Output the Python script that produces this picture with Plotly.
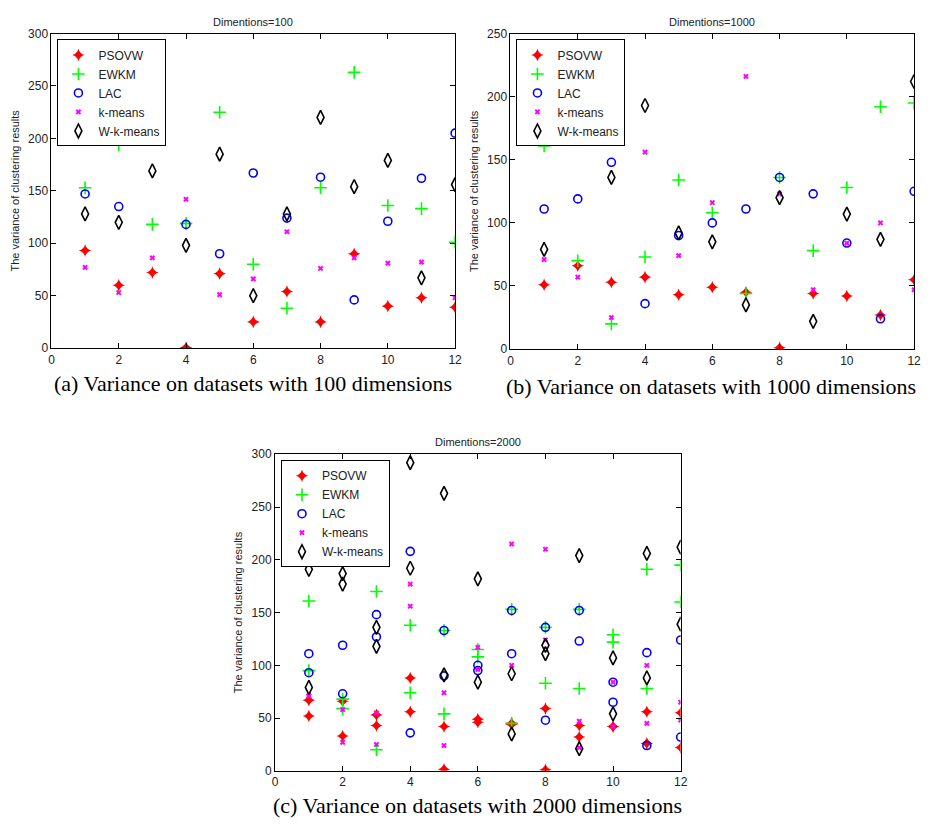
import plotly.graph_objects as go

# ---------------- data ----------------
x_sets = list(range(1, 13))
series_names = ["PSOVW", "EWKM", "LAC", "k-means", "W-k-means"]

# (a) 100 dimensions
a_psovw = [93, 60, 72, 0.5, 71, 25, 54, 25, 90, 40, 48, 39]
a_ewkm = [153, 194, 118, 119, 225, 80, 38, 153, 263, 136, 133, 101]
a_lac = [147, 135, 207, 118, 90, 167, 124, 163, 46, 121, 162, 205]
a_kmeans = [77, 53, 86, 142, 51, 66, 111, 76, 86, 81, 82, 48]
a_wkmeans = [128, 120, 169, 98, 185, 50, 128, 220, 154, 179, 67, 156]

# (b) 1000 dimensions
b_psovw = [51, 66, 53, 57, 43, 49, 45, 1, 44, 42, 27, 55]
b_ewkm = [161, 70, 20, 73, 134, 108, 44, 136, 78, 128, 192, 195]
b_lac = [111, 119, 148, 36, 90, 100, 111, 136, 123, 84, 24, 125]
b_kmeans = [71, 57, 25, 156, 74, 116, 216, 123, 47, 84, 100, 47]
b_wkmeans = [79, None, 136, 193, 92, 85, 35, 120, 22, 107, 87, 212]

# (c) 2000 dimensions (two results per dataset index)
x_pairs = [1, 1, 2, 2, 3, 3, 4, 4, 5, 5, 6, 6, 7, 7, 8, 8, 9, 9, 10, 10, 11, 11, 12, 12]
c_psovw = [67, 52, 66, 33, 53, 43, 88, 56, 42, 1.5, 49, 46, 45, 44, 59, 1, 43, 32, 42, 42, 56, 26, 55, 22]
c_ewkm = [161, 95, 68, 59, 170, 20, 138, 74, 54, 133, 115, 108, 153, 45, 83, 136, 78, 153, 129, 122, 191, 78, 195, 160]
c_lac = [111, 93, 119, 73, 148, 127, 208, 36, 133, 90, 100, 95, 152, 111, 136, 48, 152, 123, 84, 65, 112, 24, 124, 32]
c_kmeans = [71, 71, 58, 27, 55, 25, 177, 156, 74, 24, 117, 96, 215, 100, 210, 124, 47, 22, 84, 42, 100, 45, 65, 48]
c_wkmeans = [191, 79, 187, 177, 136, 118, 292, 192, 263, 91, 182, 84, 92, 35, 119, 111, 204, 21, 107, 54, 206, 88, 212, 139]

panel_titles = ["Dimentions=100", "Dimentions=1000", "Dimentions=2000"]
captions = ["(a) Variance on datasets with 100 dimensions",
            "(b) Variance on datasets with 1000 dimensions",
            "(c) Variance on datasets with 2000 dimensions"]
y_title = "The variance of clustering results"

# ---------------- styles ----------------
marker_styles = [
    dict(symbol="star-diamond", color="#ff0000", size=9, line=dict(width=0)),
    dict(symbol="cross-thin-open", color="#00ff00", size=9, line=dict(width=1.6, color="#00ff00")),
    dict(symbol="circle-open", color="#0000ff", size=8, line=dict(width=1.6, color="#0000ff")),
    dict(symbol="x", color="#ff00ff", size=5, line=dict(width=0)),
    dict(symbol="diamond-tall-open", color="#000000", size=10, line=dict(width=1.6, color="#000000")),
]

W, H = 931, 826
def px_x(p):
    return p / W
def px_y(p):
    return 1 - p / H

panels = [
    dict(xs=[x_sets] * 5, ys=[a_psovw, a_ewkm, a_lac, a_kmeans, a_wkmeans],
         xdom=[px_x(49), px_x(457)], ydom=[px_y(347), px_y(27)], yr=[0, 300], legend="legend"),
    dict(xs=[x_sets] * 5, ys=[b_psovw, b_ewkm, b_lac, b_kmeans, b_wkmeans],
         xdom=[px_x(513), px_x(921)], ydom=[px_y(348), px_y(27)], yr=[0, 250], legend="legend2"),
    dict(xs=[x_pairs] * 5, ys=[c_psovw, c_ewkm, c_lac, c_kmeans, c_wkmeans],
         xdom=[px_x(275), px_x(685)], ydom=[px_y(777), px_y(455)], yr=[0, 300], legend="legend3"),
]

fig = go.Figure()
font_tick = dict(family="Liberation Sans, Arial", size=12, color="#222222")
layout = dict(width=W, height=H, margin=dict(l=0, r=0, t=0, b=0),
              paper_bgcolor="white", plot_bgcolor="white", annotations=[])

for i, p in enumerate(panels):
    n = "" if i == 0 else str(i + 1)
    for k in range(5):
        fig.add_trace(go.Scatter(
            x=p["xs"][k], y=p["ys"][k], mode="markers", name=series_names[k],
            marker=marker_styles[k], xaxis="x" + n, yaxis="y" + n,
            legend=p["legend"], showlegend=True, cliponaxis=True))
    axis_common = dict(showline=True, linecolor="#000000", linewidth=1, mirror="allticks",
                       ticks="inside", ticklen=5, tickcolor="#000000", showgrid=False,
                       zeroline=False, tickfont=font_tick)
    layout["xaxis" + n] = dict(axis_common, domain=p["xdom"], range=[0, 12], tickvals=list(range(0, 13, 2)),
                               anchor="y" + n)
    layout["yaxis" + n] = dict(axis_common, domain=p["ydom"], range=p["yr"],
                               tickvals=list(range(0, p["yr"][1] + 1, 50)), anchor="x" + n,
                               title=dict(text=y_title, font=dict(family="Liberation Sans, Arial", size=11, color="#222222"),
                                          standoff=6))
    # legend
    layout[p["legend"]] = dict(x=p["xdom"][0] + 6 / W, y=p["ydom"][1] - 6 / H, xanchor="left", yanchor="top",
                               bgcolor="white", bordercolor="#000000", borderwidth=1,
                               font=dict(family="Liberation Sans, Arial", size=12, color="#222222"),
                               tracegroupgap=0, itemsizing="trace")
    # small title above plot
    layout["annotations"].append(dict(text=panel_titles[i], x=(p["xdom"][0] + p["xdom"][1]) / 2,
                                      y=p["ydom"][1] + 4 / H, xref="paper", yref="paper",
                                      xanchor="center", yanchor="bottom", showarrow=False,
                                      font=dict(family="Liberation Sans, Arial", size=11, color="#222222")))

# captions (y = top edge in pixels)
cap_pos = [(253, 368), (716, 371), (480, 798)]
for i, (cx, cy) in enumerate(cap_pos):
    layout["annotations"].append(dict(text=captions[i], x=cx / W, y=px_y(cy), xref="paper", yref="paper",
                                      xanchor="center", yanchor="top", showarrow=False,
                                      font=dict(family="Liberation Serif, Times New Roman", size=22, color="#000000")))

fig.update_layout(**layout)
fig.write_html("out.html")
